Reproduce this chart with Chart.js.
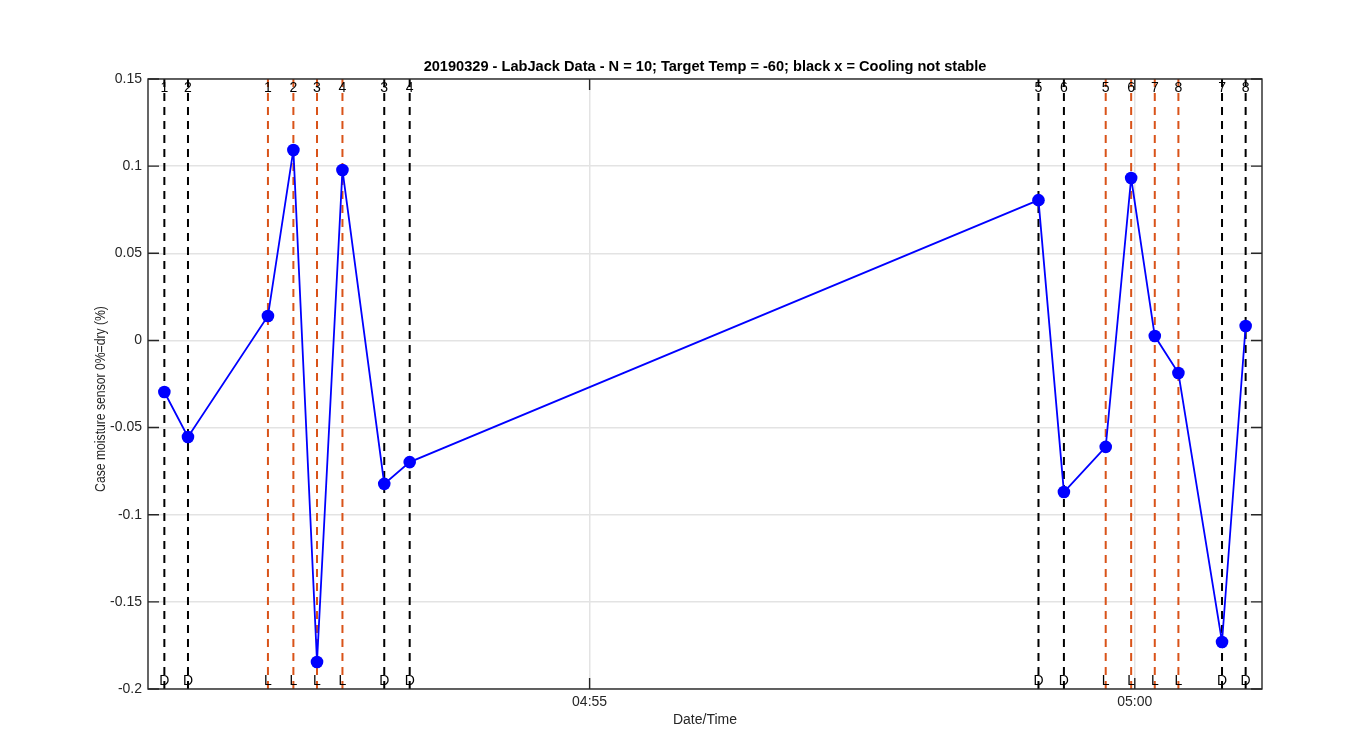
<!DOCTYPE html>
<html><head><meta charset="utf-8">
<script src="https://cdn.jsdelivr.net/npm/chart.js@4/dist/chart.umd.min.js"></script>
<style>html,body{margin:0;padding:0;background:#fff}canvas{display:block}</style>
</head><body><canvas id="c" width="1350" height="750"></canvas>
<script>
// ---- data ----
const chartTitle = '20190329 - LabJack Data - N = 10; Target Temp = -60; black x = Cooling not stable';
const xAxisTitle = 'Date/Time';
const yAxisTitle = 'Case moisture sensor 0%=dry (%)';
const lineTimes = ['04:51:06','04:51:19','04:52:03','04:52:17','04:52:30','04:52:44','04:53:07','04:53:21',
                   '04:59:07','04:59:21','04:59:44','04:59:58','05:00:11','05:00:24','05:00:48','05:01:01'];
const lineKinds = ['D','D','L','L','L','L','D','D','D','D','L','L','L','L','D','D'];
const lineNumbers = ['1','2','1','2','3','4','3','4','5','6','5','6','7','8','7','8'];
const sampleTimes = ['04:51:06','04:51:19','04:52:03','04:52:17','04:52:30','04:52:44','04:53:07','04:53:21',
                     '04:59:07','04:59:21','04:59:44','04:59:58','05:00:11','05:00:24','05:00:48','05:01:01'];
const moisture = [-0.0296,-0.0554,0.0140,0.1093,-0.1845,0.0978,-0.0823,-0.0698,
                  0.0805,-0.0870,-0.0611,0.0932,0.0025,-0.0187,-0.1730,0.0083];
const xTickLabels = ['04:55','05:00'];
const xRange = ['04:50:57','05:01:10'];
const yTickValues = [-0.2,-0.15,-0.1,-0.05,0,0.05,0.1,0.15];
const yTickLabels = ['-0.2','-0.15','-0.1','-0.05','0','0.05','0.1','0.15'];

// ---- helpers ----
function secs(s){const p=s.split(':').map(Number);return p[0]*3600+p[1]*60+(p[2]||0);}
const FONT = "'Liberation Sans', Arial, Helvetica, sans-serif";
const AX = '#262626';
const kindColor = {D:'#000000', L:'#D95319'};
const yMin = yTickValues[0], yMax = yTickValues[yTickValues.length-1];

const datasets = [];
lineTimes.forEach((t,i)=>{
  datasets.push({
    type:'line',
    data:[{x:secs(t),y:yMin},{x:secs(t),y:yMax}],
    borderColor:kindColor[lineKinds[i]], borderWidth:2, borderDash:[8,6],
    pointRadius:0, fill:false, order:2
  });
});
datasets.push({
  type:'line',
  data:sampleTimes.map((t,i)=>({x:secs(t),y:moisture[i]})),
  borderColor:'#0000FF', backgroundColor:'#0000FF', borderWidth:1.8,
  pointRadius:6.3, pointBackgroundColor:'#0000FF', pointBorderColor:'#0000FF', pointBorderWidth:0,
  fill:false, tension:0, order:1
});

const overlay = {
  id:'overlay',
  afterDatasetsDraw(chart){
    const ctx=chart.ctx, a=chart.chartArea, xs=chart.scales.x, ys=chart.scales.y;
    ctx.save();
    // line labels
    ctx.fillStyle='#000'; ctx.font='14px '+FONT; ctx.textAlign='center'; ctx.textBaseline='middle';
    lineTimes.forEach((t,i)=>{
      const px=xs.getPixelForValue(secs(t));
      ctx.fillText(lineNumbers[i],px,a.top+9);
      ctx.fillText(lineKinds[i],px,a.bottom-8);
    });
    // box
    ctx.strokeStyle=AX; ctx.lineWidth=1.4;
    ctx.strokeRect(a.left,a.top,a.right-a.left,a.bottom-a.top);
    // ticks inward
    const TL=11;
    ctx.beginPath();
    yTickValues.forEach(v=>{const py=ys.getPixelForValue(v);
      ctx.moveTo(a.left,py);ctx.lineTo(a.left+TL,py);
      ctx.moveTo(a.right,py);ctx.lineTo(a.right-TL,py);});
    xTickLabels.forEach(l=>{const px=xs.getPixelForValue(secs(l));
      ctx.moveTo(px,a.bottom);ctx.lineTo(px,a.bottom-TL);
      ctx.moveTo(px,a.top);ctx.lineTo(px,a.top+TL);});
    ctx.stroke();
    ctx.restore();
  },
  afterDraw(chart){
    const ctx=chart.ctx, a=chart.chartArea;
    ctx.save();
    ctx.fillStyle='#000'; ctx.textAlign='center'; ctx.textBaseline='middle';
    ctx.font='bold 14.6px '+FONT;
    ctx.fillText(chartTitle,(a.left+a.right)/2,67);
    ctx.fillStyle=AX; ctx.font='14px '+FONT;
    ctx.fillText(xAxisTitle,(a.left+a.right)/2,720);
    ctx.translate(101,399); ctx.rotate(-Math.PI/2); ctx.scale(0.87,1);
    ctx.fillText(yAxisTitle,0,0);
    ctx.restore();
  }
};

new Chart(document.getElementById('c'),{
  type:'line',
  data:{datasets},
  options:{
    responsive:false, animation:false, devicePixelRatio:1,
    layout:{padding:{top:79,right:88,bottom:0,left:0}},
    plugins:{legend:{display:false},title:{display:false},tooltip:{enabled:false}},
    scales:{
      x:{type:'linear',min:secs(xRange[0]),max:secs(xRange[1]),
        afterBuildTicks(s){s.ticks=xTickLabels.map(l=>({value:secs(l)}));},
        afterFit(s){s.height=61;},
        ticks:{autoSkip:false,padding:5,color:AX,font:{family:FONT,size:14},
          callback(v){const i=xTickLabels.findIndex(l=>secs(l)===v);return i>=0?xTickLabels[i]:'';}},
        grid:{drawTicks:false,color:'#e3e3e3',lineWidth:1.5},
        border:{display:false}},
      y:{type:'linear',min:yMin,max:yMax,
        afterBuildTicks(s){s.ticks=yTickValues.map(v=>({value:v}));},
        afterFit(s){s.width=148;},
        ticks:{autoSkip:false,padding:6,color:AX,font:{family:FONT,size:14},
          callback(v){const i=yTickValues.findIndex(t=>Math.abs(t-v)<1e-9);return i>=0?yTickLabels[i]:'';}},
        grid:{drawTicks:false,color:'#e3e3e3',lineWidth:1.5},
        border:{display:false}}
    }
  },
  plugins:[overlay]
});
</script></body></html>
